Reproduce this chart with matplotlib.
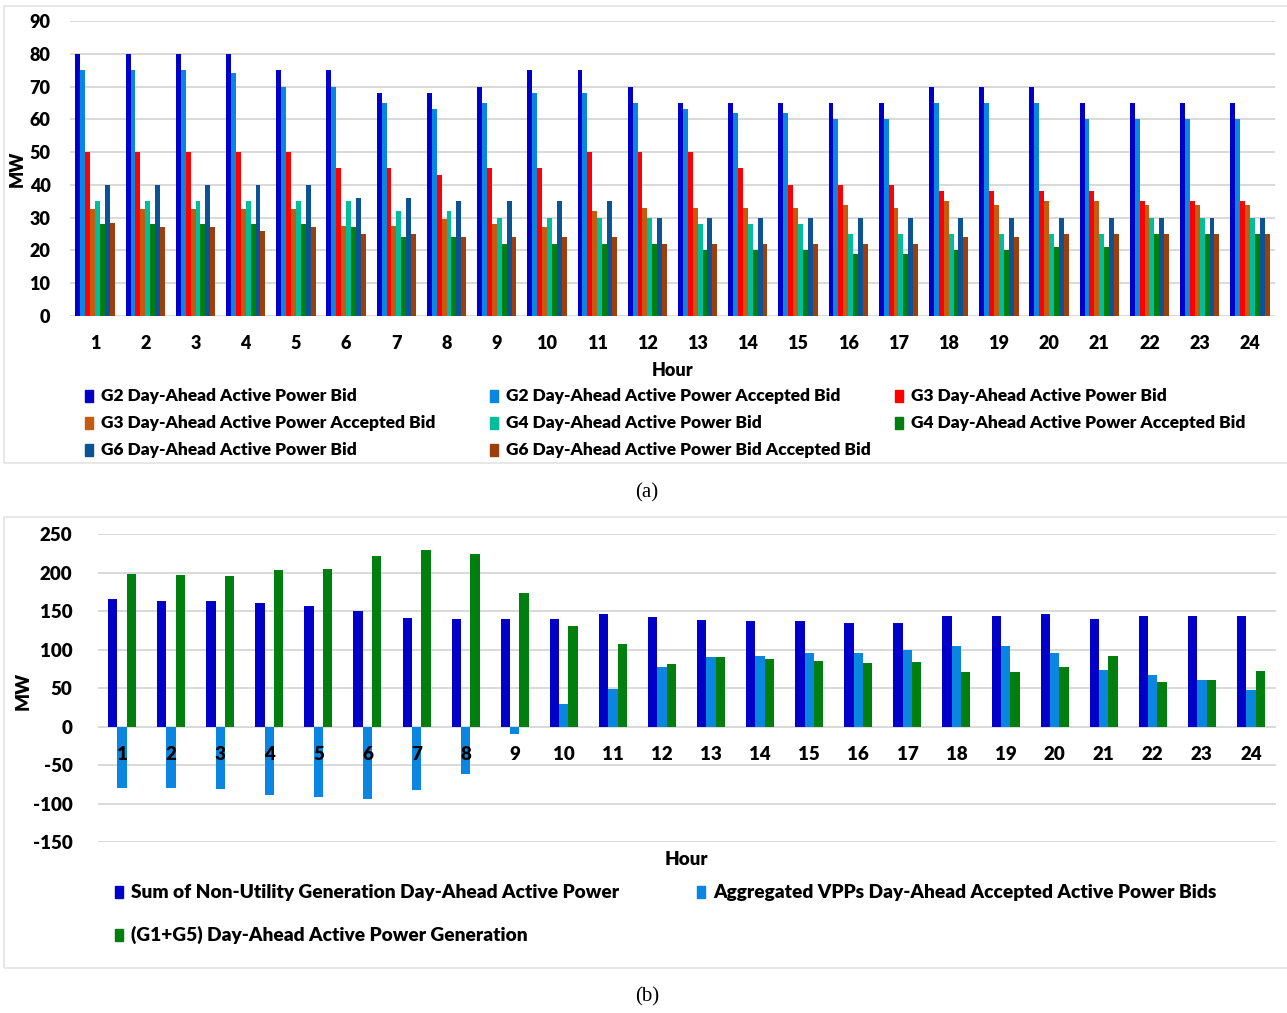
import matplotlib
matplotlib.use('Agg')
import matplotlib.pyplot as plt
from matplotlib.patches import Rectangle
import numpy as np

plt.rcParams['font.family'] = ['Lato', 'DejaVu Sans']
plt.rcParams['font.weight'] = 'heavy'
plt.rcParams['axes.labelweight'] = 'heavy'
plt.rcParams['axes.unicode_minus'] = False

W, H = 1287, 1013

hours = list(range(1, 25))

# (a) individual generator bids, MW
g2_bid = [80, 80, 80, 80, 75, 75, 68, 68, 70, 75, 75, 70, 65, 65, 65, 65, 65, 70, 70, 70, 65, 65, 65, 65]
g2_acc = [75, 75, 75, 74, 70, 70, 65, 63, 65, 68, 68, 65, 63, 62, 62, 60, 60, 65, 65, 65, 60, 60, 60, 60]
g3_bid = [50, 50, 50, 50, 50, 45, 45, 43, 45, 45, 50, 50, 50, 45, 40, 40, 40, 38, 38, 38, 38, 35, 35, 35]
g3_acc = [32.5, 32.5, 32.5, 32.5, 32.5, 27.5, 27.5, 29.5, 28, 27, 32, 33, 33, 33, 33, 34, 33, 35, 34, 35,
          35, 34, 34, 34]
g4_bid = [35, 35, 35, 35, 35, 35, 32, 32, 30, 30, 30, 30, 28, 28, 28, 25, 25, 25, 25, 25, 25, 30, 30, 30]
g4_acc = [28, 28, 28, 28, 28, 27, 24, 24, 22, 22, 22, 22, 20, 20, 20, 19, 19, 20, 20, 21, 21, 25, 25, 25]
g6_bid = [40, 40, 40, 40, 40, 36, 36, 35, 35, 35, 35, 30, 30, 30, 30, 30, 30, 30, 30, 30, 30, 30, 30, 30]
g6_acc = [28.5, 27, 27, 26, 27, 25, 25, 24, 24, 24, 24, 22, 22, 22, 22, 22, 22, 24, 24, 25, 25, 25, 25, 25]

# (b) aggregated values, MW
non_utility = [165, 163, 163, 161, 157, 150, 141, 140, 139, 140, 146, 142, 138, 137.5, 137.5, 135, 134,
               143.5, 143, 146, 140, 143.5, 143.5, 143.5]
vpp_accepted = [-80, -80, -81, -89, -92, -94, -83, -62, -10, 29, 49, 77, 90, 92, 96, 96, 100, 104, 105,
                95, 74, 67, 60, 48]
g1_g5 = [198, 196.5, 196, 203, 205, 221.5, 229, 223.5, 173.5, 130, 107, 81, 90, 88, 85, 82, 83.5, 71, 71,
         77.5, 92, 57.5, 61, 72]

top_series = [
    (g2_bid, '#0000C8', 'G2 Day-Ahead Active Power Bid'),
    (g2_acc, '#0A86E0', 'G2 Day-Ahead Active Power Accepted Bid'),
    (g3_bid, '#FF0000', 'G3 Day-Ahead Active Power Bid'),
    (g3_acc, '#C55A11', 'G3 Day-Ahead Active Power Accepted Bid'),
    (g4_bid, '#00BE9C', 'G4 Day-Ahead Active Power Bid'),
    (g4_acc, '#007F0E', 'G4 Day-Ahead Active Power Accepted Bid'),
    (g6_bid, '#0B5394', 'G6 Day-Ahead Active Power Bid'),
    (g6_acc, '#9C3F0C', 'G6 Day-Ahead Active Power Bid Accepted Bid'),
]
bottom_series = [
    (non_utility, '#0000C8', 'Sum of Non-Utility Generation Day-Ahead Active Power'),
    (vpp_accepted, '#0A86E0', 'Aggregated VPPs Day-Ahead Accepted Active Power Bids'),
    (g1_g5, '#007F0E', '(G1+G5) Day-Ahead Active Power Generation'),
]

grid_color = '#D9D9D9'
fig = plt.figure(figsize=(W / 100, H / 100), dpi=100)


def px_axes(left, top, right, bottom):
    return fig.add_axes([left / W, 1 - bottom / H, (right - left) / W, (bottom - top) / H])


def frame(left, top, right, bottom):
    fig.add_artist(Rectangle((left / W, 1 - bottom / H), (right - left) / W, (bottom - top) / H,
                             transform=fig.transFigure, fill=False, edgecolor='#E3E3E3', lw=1.2))


def legend_entry(x, y, color, text, size):
    fig.add_artist(Rectangle((x / W, 1 - (y + 6) / H), 8 / W, 12 / H,
                             transform=fig.transFigure, color=color))
    fig.text((x + 16) / W, 1 - y / H, text, va='center', ha='left', fontsize=size)


def style_axes(ax):
    for s in ax.spines.values():
        s.set_visible(False)
    ax.yaxis.grid(True, color=grid_color, lw=1.4)
    ax.set_axisbelow(True)
    # hour labels sit on top of the bars, gridlines stay behind them
    ax.xaxis.set_zorder(3)
    ax.tick_params(length=0, labelsize=13)
    ax.set_xticks(hours)
    ax.set_xlim(0.5, 24.5)


frame(4, 6, W + 5, 463)
frame(4, 517, W + 5, 968)

# ---- (a) ----
ax1 = px_axes(70, 21, 1275, 316)
style_axes(ax1)
x = np.array(hours)
w = 0.098
for i, (vals, color, label) in enumerate(top_series):
    ax1.bar(x + (i - 3.5) * w, vals, width=w, color=color, label=label)
ax1.set_ylim(0, 90)
ax1.set_yticks(range(0, 91, 10))
ax1.tick_params(axis='y', pad=14)
ax1.tick_params(axis='x', pad=14)
ax1.set_xlabel('Hour', fontsize=13)
ax1.xaxis.set_label_coords(0.5, -0.156)
ax1.set_ylabel('MW', fontsize=13)
ax1.yaxis.set_label_coords(-0.037, 0.5)

top_pos = [(85, 396), (490, 396), (895, 396), (85, 423), (490, 423), (895, 423), (85, 450), (490, 450)]
for (px, py), (_, color, label) in zip(top_pos, top_series):
    legend_entry(px, py, color, label, 12.5)

fig.text(647 / W, 1 - 493 / H, '(a)', ha='center', va='center', fontsize=15,
         family='Liberation Serif', fontweight='normal')

# ---- (b) ----
ax2 = px_axes(97.5, 534, 1275.5, 842)
style_axes(ax2)
w = 0.19
for i, (vals, color, label) in enumerate(bottom_series):
    ax2.bar(x + (i - 1) * w, vals, width=w, color=color, label=label)
ax2.set_ylim(-150, 250)
ax2.set_yticks(range(-150, 251, 50))
ax2.spines['bottom'].set_position(('data', 0))
ax2.tick_params(axis='y', pad=18, labelsize=13.5)
ax2.tick_params(axis='x', pad=14, labelsize=13.5)
ax2.set_xlabel('Hour', fontsize=13.5)
ax2.xaxis.set_label_coords(0.5, -0.029)
ax2.set_ylabel('MW', fontsize=13.5)
ax2.yaxis.set_label_coords(-0.0556, 0.49)

bottom_pos = [(115, 892), (697, 892), (115, 935)]
for (px, py), (_, color, label) in zip(bottom_pos, bottom_series):
    legend_entry(px, py, color, label, 13.8)

fig.text(647 / W, 1 - 997 / H, '(b)', ha='center', va='center', fontsize=15,
         family='Liberation Serif', fontweight='normal')

fig.savefig('out.png', dpi=100)
